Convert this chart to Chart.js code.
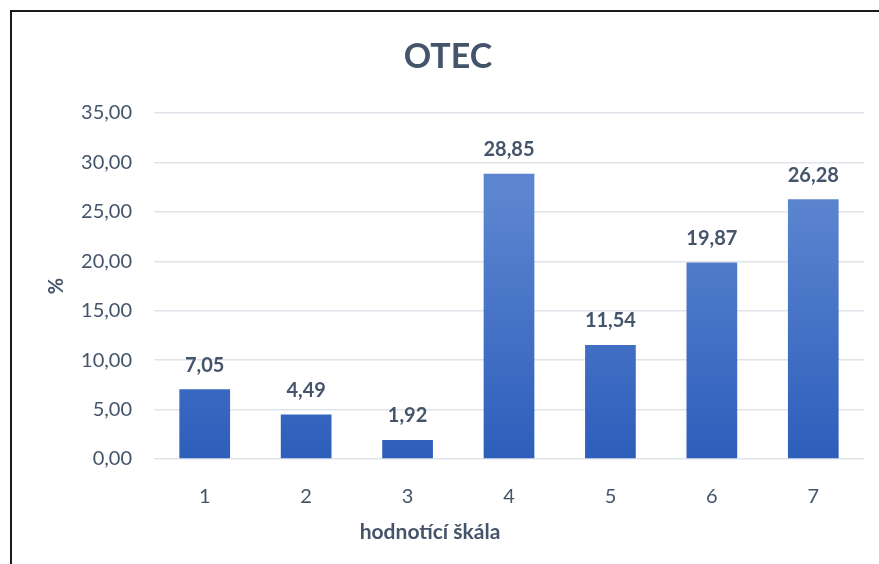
<!DOCTYPE html>
<html>
<head>
<meta charset="utf-8">
<script src="https://cdn.jsdelivr.net/npm/chart.js@4"></script>
<style>
  html, body { margin: 0; padding: 0; background: #fff; overflow: hidden; }
  .frame { position: absolute; left: 10px; top: 10px; width: 1000px; height: 1000px; border: 2px solid #1a1a1a; }
  .wrap { position: absolute; left: 0; top: 0; width: 879px; height: 564px; }
</style>
</head>
<body>
<div class="frame"></div>
<div class="wrap"><canvas id="otecChart"></canvas></div>
<script>
// data
const categories = ['1', '2', '3', '4', '5', '6', '7'];
const percentValues = [7.05, 4.49, 1.92, 28.85, 11.54, 19.87, 26.28];
const yTicks = [0, 5, 10, 15, 20, 25, 30, 35];

const textColor = '#44546a';
const fmt = v => v.toFixed(2).replace('.', ',');

Chart.defaults.font.family = 'Lato';
Chart.defaults.color = textColor;

// each bar gets its own top-to-bottom gradient
const barGradient = {
    id: 'barGradient',
    beforeDatasetsDraw(chart) {
        const c = chart.ctx;
        chart.getDatasetMeta(0).data.forEach(bar => {
            const g = c.createLinearGradient(0, bar.y, 0, bar.base);
            g.addColorStop(0, '#5c85d0');
            g.addColorStop(1, '#2d5ebb');
            bar.options.backgroundColor = g;
        });
    }
};

// value labels above the bars + x axis title
const barLabels = {
    id: 'barLabels',
    afterDatasetsDraw(chart) {
        const c = chart.ctx;
        c.save();
        c.fillStyle = textColor;
        c.textAlign = 'center';
        c.textBaseline = 'middle';
        c.font = 'bold 20px Lato';
        chart.getDatasetMeta(0).data.forEach((bar, i) => {
            c.fillText(fmt(percentValues[i]), bar.x, bar.y - 24);
        });
        c.font = 'bold 21px Lato';
        c.fillText('hodnotící škála', 430, 532);
        c.restore();
    }
};

const ctx = document.getElementById('otecChart');

new Chart(ctx, {
    type: 'bar',
    data: {
        labels: categories,
        datasets: [{
            label: 'OTEC',
            data: percentValues,
            backgroundColor: '#3e6cc4',
            borderWidth: 0,
            categoryPercentage: 0.5,
            barPercentage: 1
        }]
    },
    options: {
        responsive: true,
        maintainAspectRatio: false,
        animation: false,
        layout: { padding: { left: 32, right: 15, top: 0, bottom: 0 } },
        plugins: {
            legend: { display: false },
            tooltip: { enabled: false },
            title: {
                display: true,
                text: 'OTEC',
                color: textColor,
                font: { size: 34, weight: 'bold' },
                padding: { top: 36.6, bottom: 35.6 }
            }
        },
        scales: {
            x: {
                grid: { display: false },
                border: { display: false },
                ticks: { font: { size: 20 }, padding: 18, color: textColor },
                afterFit(scale) { scale.height = 105; }
            },
            y: {
                min: 0,
                max: 35,
                afterBuildTicks(scale) { scale.ticks = yTicks.map(v => ({ value: v })); },
                grid: { color: '#dfe3ea', lineWidth: 1.5, drawTicks: false },
                border: { display: false },
                ticks: {
                    font: { size: 20 },
                    padding: 22,
                    color: textColor,
                    callback: v => fmt(v)
                },
                title: {
                    display: true,
                    text: '%',
                    color: textColor,
                    font: { size: 20, weight: 'bold' },
                    padding: { top: 13, bottom: 0 }
                },
                afterFit(scale) { scale.width = 122; }
            }
        }
    },
    plugins: [barGradient, barLabels]
});
</script>
</body>
</html>
